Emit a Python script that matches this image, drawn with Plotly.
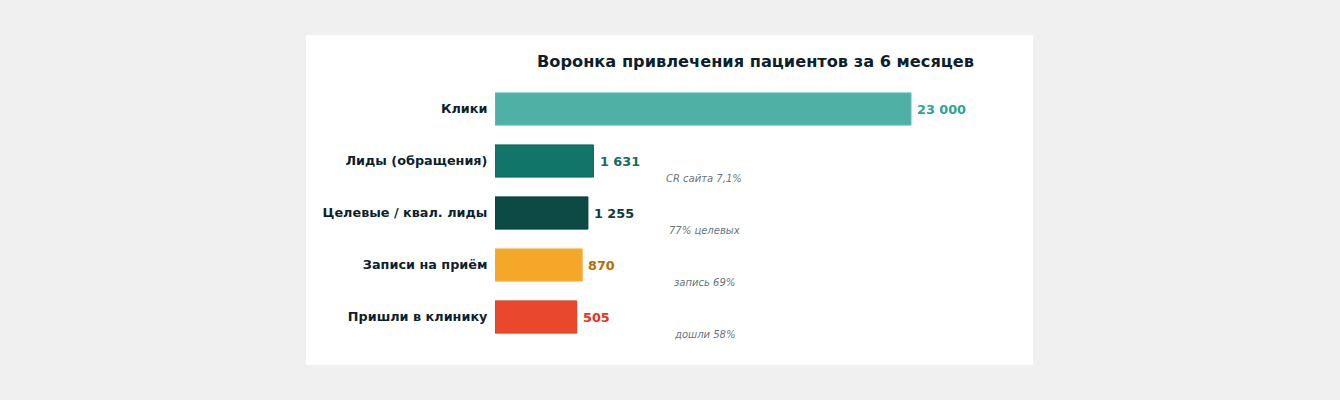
import plotly.graph_objects as go

# ---- data ----
stages = ["Клики", "Лиды (обращения)", "Целевые / квал. лиды", "Записи на приём", "Пришли в клинику"]
values = [23000, 1631, 1255, 870, 505]
value_labels = ["23 000", "1 631", "1 255", "870", "505"]
conv_labels = ["CR сайта 7,1%", "77% целевых", "запись 69%", "дошли 58%"]
bar_colors = ["#4fb0a5", "#12756a", "#0b4a45", "#f5a72a", "#e9482d"]
line_colors = ["#5fbfb3", "#0f6a60", "#083f3a", "#f7b13f", "#e03a22"]
text_colors = ["#2da394", "#0f6e63", "#0b3d39", "#b86e00", "#e8321e"]

OFFSET = 5000  # visual base offset of the bars (axis starts below zero)
FONT = "DejaVu Sans"
DARK = "#0d1f2d"

L, R, T, B = 495, 307, 83, 57
W, H = 1340, 400
pw = W - L - R
ph = H - T - B
k = 416 / 28000.0  # px per unit

fig = go.Figure()
fig.add_trace(go.Bar(
    y=stages,
    x=[v + OFFSET for v in values],
    base=[-OFFSET] * len(values),
    orientation="h",
    marker=dict(color=bar_colors, line=dict(color=line_colors, width=1)),
    hoverinfo="skip",
    width=0.62,
))

for s, v, lab, c in zip(stages, values, value_labels, text_colors):
    fig.add_annotation(
        x=v, xref="x", y=s, yref="y", text="<b>" + lab + "</b>",
        showarrow=False, xanchor="left", yanchor="middle", xshift=4,
        font=dict(family=FONT, size=12.8, color=c),
    )

for i, lab in enumerate(conv_labels):
    fig.add_annotation(
        x=0.3885, xref="paper", y=i + 1.33, yref="y",
        text="<i>" + lab + "</i>", showarrow=False,
        font=dict(family=FONT, size=10, color="#66757c"),
        xanchor="center", yanchor="middle",
    )

fig.add_annotation(
    x=0.485, xref="paper", y=(H - B - 61) / ph, yref="paper",
    text="<b>Воронка привлечения пациентов за 6 месяцев</b>", showarrow=False,
    font=dict(family=FONT, size=16.2, color=DARK),
    xanchor="center", yanchor="middle",
)

fig.add_shape(
    type="rect", xref="paper", yref="paper", layer="below",
    x0=(306 - L) / pw, x1=(1033 - L) / pw,
    y0=(H - B - 365) / ph, y1=(H - B - 35) / ph,
    fillcolor="white", line=dict(width=0),
)

fig.update_layout(
    width=W, height=H,
    margin=dict(l=L, r=R, t=T, b=B),
    paper_bgcolor="#f0f0f0",
    plot_bgcolor="white",
    showlegend=False,
    xaxis=dict(range=[-OFFSET, -OFFSET + pw / k], visible=False, fixedrange=True),
    yaxis=dict(
        autorange="reversed",
        tickfont=dict(family=FONT, size=12.8, color=DARK, weight="bold"),
        ticks="outside", ticklen=4, tickcolor="rgba(0,0,0,0)",
        showgrid=False, zeroline=False, showline=False, fixedrange=True,
    ),
    bargap=0.38,
)

fig.write_html(
    "out.html",
    config={"displayModeBar": False},
    post_script="document.body.style.margin='0';document.body.style.background='#f0f0f0';document.body.style.overflow='hidden';",
)
